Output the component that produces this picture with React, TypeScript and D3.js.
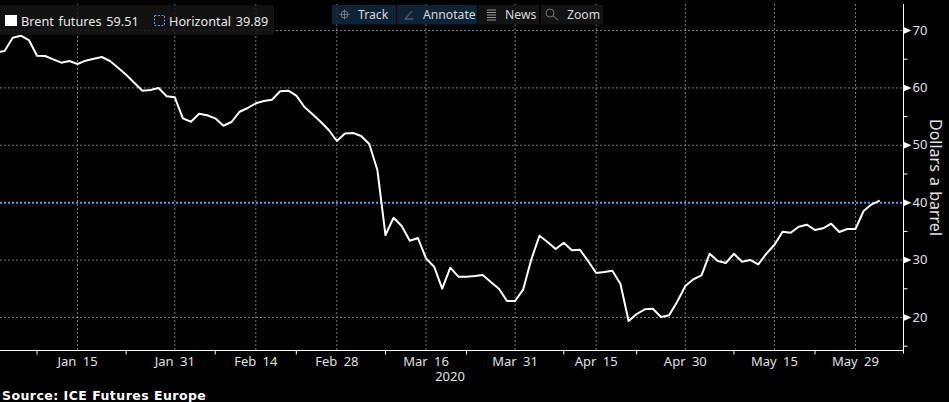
import { useEffect, useRef } from "react";
import * as d3 from "d3";

const WIDTH = 949;
const HEIGHT = 402;

// Weekdays from Jan 1 to Jun 3 2020, ICE closed on Good Friday
const goodFriday = "Apr 10";
const fmt = d3.utcFormat("%b %d");
const tradingDays = d3.utcDay
  .range(new Date(Date.UTC(2020, 0, 1)), new Date(Date.UTC(2020, 5, 4)))
  .filter((d) => d.getUTCDay() !== 0 && d.getUTCDay() !== 6)
  .map((d) => fmt(d))
  .filter((d) => d !== goodFriday);

const brent = [
  66.17, 66.43, 68.75, 69.09, 68.34, 65.61, 65.56, 64.98, 64.39, 64.69,
  64.16, 64.74, 65.09, 65.38, 64.69, 63.52, 62.3, 60.91, 59.51, 59.63,
  59.98, 58.54, 58.36, 54.7, 54.11, 55.51, 55.23, 54.7, 53.41, 54.06,
  55.85, 56.5, 57.32, 57.72, 57.94, 59.41, 59.51, 58.64, 56.67, 55.4,
  54.11, 52.67, 50.75, 52.06, 52.14, 51.62, 50.23, 45.7, 34.37, 37.39,
  35.94, 33.38, 33.85, 30.31, 28.85, 25.02, 28.68, 27.11, 27.11, 27.23,
  27.4, 26.18, 25.02, 22.87, 22.87, 24.91, 30.14, 34.25, 33.15, 31.93,
  33.03, 31.71, 31.81, 29.84, 27.75, 27.93, 28.15, 25.84, 19.39, 20.61,
  21.43, 21.53, 20.09, 20.38, 22.75, 25.49, 26.66, 27.35, 31.11, 29.84,
  29.49, 31.11, 29.72, 30.02, 29.27, 31.11, 32.68, 34.95, 34.77, 35.82,
  36.17, 35.24, 35.54, 36.34, 34.9, 35.42, 35.42, 38.55, 39.72, 40.35,
];

const dateLabels = ["Jan 15", "Jan 31", "Feb 14", "Feb 28", "Mar 16", "Mar 31", "Apr 15", "Apr 30", "May 15", "May 29"];
const minorDates = ["Jan 08", "Jan 23", "Feb 07", "Feb 21", "Mar 09", "Mar 23", "Apr 08", "Apr 22", "May 08", "May 22"];
const priceTicks = [20, 30, 40, 50, 60, 70];
const minorPriceTicks = [15, 25, 35, 45, 55, 65];
const horizontalLevel = 40;

const toolbarButtons = [
  { label: "Track", active: true },
  { label: "Annotate", active: true },
  { label: "News", active: false },
  { label: "Zoom", active: false },
];

const FONT = "'Noto Sans', sans-serif";
const LABEL_FONT = `13px ${FONT}`;

export default function App() {
  const svgRef = useRef<SVGSVGElement>(null);

  useEffect(() => {
    if (!svgRef.current) return;
    const svg = d3.select(svgRef.current);
    svg.selectAll("*").remove();

    const plotRight = 903.5;
    const plotBottom = 350.5;
    const plotTop = 4;

    const x = d3.scalePoint<string>().domain(tradingDays).range([-3.5, 879.8]);
    const y = d3.scaleLinear().domain([20, 70]).range([317.5, 30.5]);

    svg.append("rect").attr("width", WIDTH).attr("height", HEIGHT).attr("fill", "#000");

    // Grid
    const grid = svg.append("g").attr("stroke", "#7a7a7a").attr("stroke-dasharray", "2 2");
    grid
      .selectAll("line.h")
      .data(priceTicks)
      .join("line")
      .attr("x1", 0)
      .attr("x2", plotRight)
      .attr("y1", (d) => y(d))
      .attr("y2", (d) => y(d));
    grid
      .selectAll("line.v")
      .data(dateLabels)
      .join("line")
      .attr("x1", (d) => x(d) || 0)
      .attr("x2", (d) => x(d) || 0)
      .attr("y1", plotTop)
      .attr("y2", plotBottom);

    // Horizontal level
    svg
      .append("line")
      .attr("x1", 0)
      .attr("x2", plotRight)
      .attr("y1", y(horizontalLevel))
      .attr("y2", y(horizontalLevel))
      .attr("stroke", "#5b9be6")
      .attr("stroke-width", 2)
      .attr("stroke-dasharray", "2 2");

    // Price line
    const line = d3
      .line<number>()
      .x((_, i) => x(tradingDays[i]) || 0)
      .y((d) => y(d));
    svg
      .append("path")
      .datum(brent)
      .attr("fill", "none")
      .attr("stroke", "#fff")
      .attr("stroke-width", 2)
      .attr("stroke-linejoin", "round")
      .attr("d", line);

    // Axes
    const xAxis = svg
      .append("g")
      .attr("transform", `translate(0,${plotBottom})`)
      .call(d3.axisBottom(x).tickValues(dateLabels).tickSize(0).tickPadding(6).offset(0));
    xAxis.select(".domain").remove();
    xAxis
      .selectAll("text")
      .attr("fill", "#e0e0e0")
      .style("font", LABEL_FONT)
      .style("word-spacing", "3px");

    const xMinor = svg
      .append("g")
      .attr("transform", `translate(0,${plotBottom})`)
      .call(d3.axisBottom(x).tickValues(minorDates).tickSize(4).tickFormat(() => "").offset(0));
    xMinor.select(".domain").remove();
    xMinor.selectAll("line").attr("stroke", "#fff");

    svg
      .append("line")
      .attr("x1", 0)
      .attr("x2", plotRight)
      .attr("y1", plotBottom)
      .attr("y2", plotBottom)
      .attr("stroke", "#fff");
    svg
      .append("line")
      .attr("x1", plotRight)
      .attr("x2", plotRight)
      .attr("y1", plotTop)
      .attr("y2", plotBottom + 3)
      .attr("stroke", "#fff");

    const yAxis = svg
      .append("g")
      .attr("transform", `translate(${plotRight},0)`)
      .call(d3.axisRight(y).tickValues(priceTicks).tickSize(0).tickPadding(9).offset(0));
    yAxis.select(".domain").remove();
    yAxis
      .selectAll("text")
      .attr("fill", "#e0e0e0")
      .style("font", LABEL_FONT);
    yAxis
      .selectAll(".tick")
      .append("path")
      .attr("d", "M0,-3.5L8,0L0,3.5Z")
      .attr("fill", "#fff");

    const yMinor = svg
      .append("g")
      .attr("transform", `translate(${plotRight},0)`)
      .call(d3.axisRight(y).tickValues(minorPriceTicks).tickSize(4).tickFormat(() => "").offset(0));
    yMinor.select(".domain").remove();
    yMinor.selectAll("line").attr("stroke", "#fff");

    svg
      .append("text")
      .attr("transform", "translate(934,177.5) rotate(90)")
      .attr("text-anchor", "middle")
      .attr("dominant-baseline", "middle")
      .attr("fill", "#e0e0e0")
      .style("font", `16px ${FONT}`)
      .style("word-spacing", "1px")
      .text("Dollars a barrel");

    svg
      .append("text")
      .attr("x", 450)
      .attr("y", 381)
      .attr("text-anchor", "middle")
      .attr("fill", "#e0e0e0")
      .style("font", LABEL_FONT)
      .text("2020");

    svg
      .append("text")
      .attr("x", 2)
      .attr("y", 400)
      .attr("fill", "#fff")
      .style("font", "bold 12.5px 'DejaVu Sans', sans-serif")
      .style("letter-spacing", "0.46px")
      .text("Source: ICE Futures Europe");

    // Legend
    const legend = svg.append("g");
    legend
      .append("rect")
      .attr("x", -6)
      .attr("y", 5)
      .attr("width", 280)
      .attr("height", 30)
      .attr("rx", 4)
      .attr("fill", "#151515")
      .attr("fill-opacity", 0.85);
    legend.append("rect").attr("x", 5).attr("y", 15).attr("width", 12).attr("height", 11).attr("fill", "#fff");
    legend
      .append("rect")
      .attr("x", 154.5)
      .attr("y", 15.5)
      .attr("width", 10)
      .attr("height", 10)
      .attr("fill", "none")
      .attr("stroke", "#5b9be6")
      .attr("stroke-dasharray", "2 1.5");
    legend
      .append("text")
      .attr("x", 21)
      .attr("y", 26)
      .attr("fill", "#e8e8e8")
      .style("font", `12.7px ${FONT}`)
      .style("word-spacing", "1.5px")
      .text("Brent futures 59.51");
    legend
      .append("text")
      .attr("x", 169)
      .attr("y", 26)
      .attr("fill", "#e8e8e8")
      .style("font", `12.7px ${FONT}`)
      .style("word-spacing", "1.5px")
      .text("Horizontal 39.89");

    // Toolbar
    const buttonX = [332, 397, 478, 541];
    const buttonW = [64, 80, 61, 62];
    const toolbar = svg.append("g");
    toolbarButtons.forEach((b, i) => {
      const g = toolbar.append("g").attr("transform", `translate(${buttonX[i]},5)`);
      g.append("rect")
        .attr("width", buttonW[i])
        .attr("height", 19.5)
        .attr("fill", b.active ? "#12293f" : "#161616")
        .attr("fill-opacity", 0.85);
      g.append("text")
        .attr("x", i === 2 ? 27 : 26)
        .attr("y", 14)
        .attr("fill", "#d8d8d8")
        .style("font", `12.2px ${FONT}`)
        .text(b.label);
    });
    const icons = svg.append("g").attr("fill", "none").attr("stroke", "#777").attr("stroke-width", 1);
    icons.append("circle").attr("cx", 344.5).attr("cy", 14.5).attr("r", 3.5);
    icons.append("path").attr("d", "M344.5,9.5V19.5M339.5,14.5H349.5");
    icons.append("path").attr("d", "M405,19L412,11M405,19H413");
    icons.append("path").attr("d", "M487,10H496M487,12.5H496M487,15H496M487,17.5H496M487,20H496").attr("stroke", "#999");
    icons.append("circle").attr("cx", 550).attr("cy", 13).attr("r", 4);
    icons.append("path").attr("d", "M553,16L558,20");
  }, []);

  return <svg ref={svgRef} width={WIDTH} height={HEIGHT} style={{ position: "absolute", left: 0, top: 0, display: "block" }} />;
}
